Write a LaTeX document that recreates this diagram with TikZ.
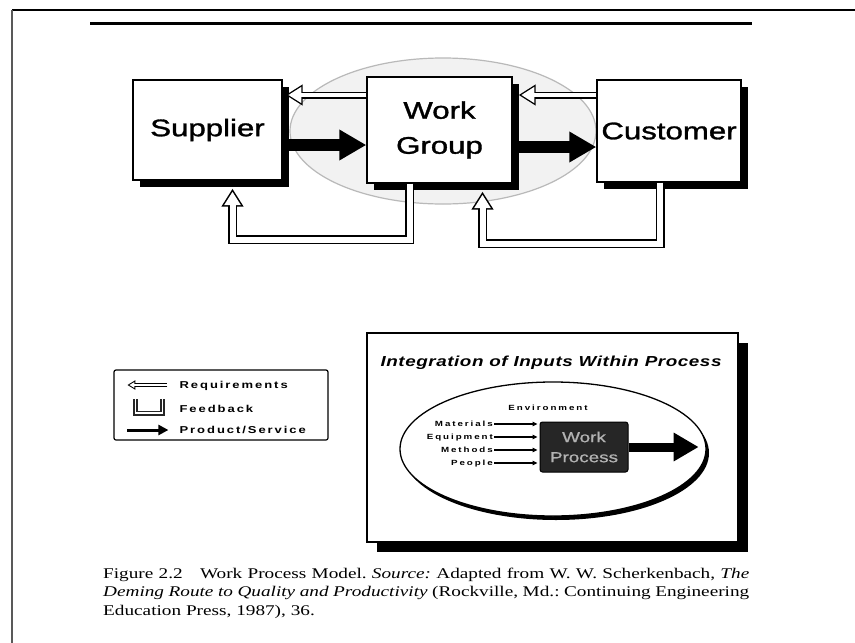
\documentclass[tikz,border=0pt]{standalone}
\usepackage{graphicx}
\usepackage{fontspec}
\setmainfont{Liberation Serif}
\newfontfamily\boxfont[FakeBold=1.2]{Liberation Sans}
\newfontfamily\wpfont[FakeBold=0.8]{Liberation Sans}
\newfontfamily\legfont[LetterSpace=15]{Liberation Sans}
\newfontfamily\titfont[LetterSpace=3]{Liberation Sans}
\newfontfamily\envfont[LetterSpace=20]{Liberation Sans}
\usetikzlibrary{arrows.meta,calc,shadows,shapes.geometric}
\newcommand\sx[1]{\scalebox{1.3}[1]{#1}}
\newcommand\hollow[2]{\draw[#1out] #2;\draw[#1in] #2;}
\begin{document}
\begin{tikzpicture}[x=1pt,y=-1pt,
  box/.style={draw=black, line width=1.4pt, fill=white,
    drop shadow={shadow xshift=7pt, shadow yshift=-7pt, fill=black, opacity=1},
    font=\boxfont\fontsize{24}{35}\selectfont, align=center, inner sep=0pt},
  prod/.style={line width=12pt, -{Triangle[length=27pt,width=29pt]}},
  reqout/.style={line width=7pt, black, line join=miter, -{Triangle[length=17pt,width=20pt]}},
  reqin/.style={line width=4.4pt, white, line join=miter, shorten >=2.6pt, -{Triangle[length=13.1pt,width=15.4pt]}},
  fbout/.style={line width=9pt, black, line join=miter, -{Triangle[length=18pt,width=21pt]}},
  fbin/.style={line width=6pt, white, line join=miter, shorten >=3pt, -{Triangle[length=13.5pt,width=15.8pt]}},
  lreqout/.style={line width=4pt, black, -{Triangle[length=8pt,width=9pt]}},
  lreqin/.style={line width=2pt, white, shorten >=2pt, -{Triangle[length=5pt,width=5.6pt]}},
  legtext/.style={font=\legfont\bfseries\fontsize{10}{12}\selectfont, anchor=west, inner sep=0pt},
  envtext/.style={font=\envfont\bfseries\fontsize{7.5}{9}\selectfont, inner sep=0pt, text height=5.5pt, text depth=0pt},
  inarrow/.style={line width=1.1pt, -{Triangle[length=5pt,width=4.5pt]}}
]
\useasboundingbox (0,0) rectangle (855,643);
\fill[white] (0,0) rectangle (855,643);

% page rules
\draw[line width=1.3pt] (12,10) -- (855,10);
\draw[line width=2.4pt] (12,10) -- (90,10);
\draw[line width=2.4pt] (782,10) -- (855,10);
\draw[line width=3pt] (90,23) -- (752,23);
\draw[line width=1.6pt, black!65] (12,10) -- (12,643);

% top diagram
\node[ellipse, draw=gray!55, fill=gray!10, line width=1.2pt,
      minimum width=306pt, minimum height=146pt, inner sep=0pt] (env) at (443,131) {};

\node[box, minimum width=149pt, minimum height=100pt] (sup) at (207.5,130) {\sx{Supplier}};
\node[box, minimum width=145pt, minimum height=106pt] (wg) at (439.5,130) {\sx{Work}\\\sx{Group}};
\node[box, minimum width=144pt, minimum height=102pt] (cus) at (669,131) {\sx{Customer}};

\draw[prod] ($(sup.east)+(0,15)$) -- ($(wg.west)+(0,15)$);
\draw[prod] ($(wg.east)+(0,17)$) -- ($(cus.west)+(0,16)$);

\hollow{req}{($(wg.west)+(0,-35)$) -- ($(sup.east)+(3,-35)$)}
\hollow{req}{($(cus.west)+(0,-36)$) -- ($(wg.east)+(6,-35)$)}

\hollow{fb}{($(wg.south)+(-30,0)$) |- ($(sup.south)+(25,59)$) -- ($(sup.south)+(25,8)$)}
\hollow{fb}{($(cus.south)+(-9,0)$) |- ($(wg.south)+(43,60)$) -- ($(wg.south)+(43,8)$)}

% legend
\node[draw, rounded corners=2pt, line width=1.2pt, minimum width=214pt, minimum height=70pt, inner sep=0pt] (leg) at (221,405) {};
\hollow{lreq}{($(leg.west)+(54,-20)$) -- ($(leg.west)+(14,-20)$)}
\node[legtext] (lreqt) at ($(leg.west)+(66,-19)$) {\sx{Requirements}};
\draw[line width=5pt, black!85, line join=miter] ($(leg.west)+(22,-6)$) |- ($(leg.west)+(49,8)$) -- ($(leg.west)+(49,-6)$);
\draw[line width=1.6pt, white, line join=miter] ($(leg.west)+(22,-8.5)$) |- ($(leg.west)+(49,8)$) -- ($(leg.west)+(49,-8.5)$);
\node[legtext] (lfbt) at ($(leg.west)+(66,4)$) {\sx{Feedback}};
\draw[line width=3pt, -{Triangle[length=10pt,width=10pt]}] ($(leg.west)+(14,25)$) -- ($(leg.west)+(55,25)$);
\node[legtext] (lprt) at ($(leg.west)+(66,25)$) {\sx{Product/Service}};

% integration box
\node[draw, line width=1.3pt, fill=white,
      drop shadow={shadow xshift=10pt, shadow yshift=-10pt, fill=black, opacity=1},
      minimum width=371pt, minimum height=209pt, inner sep=0pt] (ib) at (552.5,437.5) {};
\node[font=\titfont\bfseries\itshape\fontsize{14.5}{16}\selectfont, inner sep=0pt] (tit) at (551,363) {\sx{Integration of Inputs Within Process}};

\node[ellipse, draw, line width=1.3pt, fill=white,
      drop shadow={shadow xshift=3pt, shadow yshift=-4pt, fill=black, opacity=1},
      minimum width=306pt, minimum height=134pt, inner sep=0pt] (ell) at (553,449) {};
\node[envtext] (envt) at (548,408) {\sx{Environment}};

\node[fill=black!85, draw=black, line width=1pt, rounded corners=2.5pt,
      minimum width=88pt, minimum height=50pt, inner sep=0pt, text=black!30,
      font=\wpfont\fontsize{14.5}{20}\selectfont, align=center] (wp) at (584,447) {\sx{Work}\\\sx{Process}};

\node[envtext, anchor=east] (mat) at (493,424) {\sx{Materials}};
\node[envtext, anchor=east] (equ) at (493,437) {\sx{Equipment}};
\node[envtext, anchor=east] (met) at (493,450) {\sx{Methods}};
\node[envtext, anchor=east] (peo) at (493,463) {\sx{People}};
\foreach \n in {mat,equ,met,peo}
  \draw[inarrow] ($(\n.east)+(1,0)$) -- ($(\n.east -| wp.west)+(-2,0)$);

\draw[line width=9pt, -{Triangle[length=25pt,width=27pt]}] (wp.east) -- ($(wp.east -| ell.east)+(-8,0)$);

% caption
\node[anchor=base west, inner sep=0pt] (cap) at (103,578) {\sx{\parbox[t]{497pt}{\frenchspacing\fontsize{14.8}{18.5}\selectfont
\makebox[497pt][s]{Figure 2.2\hspace{0.9em}Work Process Model. \textit{Source:} Adapted from W. W. Scherkenbach, \textit{The}}\\
\makebox[497pt][s]{\textit{Deming Route to Quality and Productivity} (Rockville, Md.: Continuing Engineering}\\
Education Press, 1987), 36.}}};
\end{tikzpicture}
\end{document}
